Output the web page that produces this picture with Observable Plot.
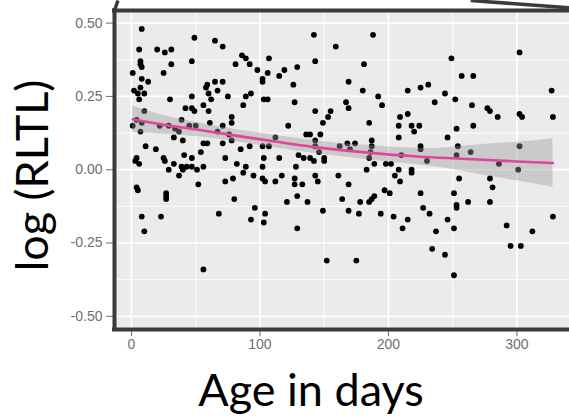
<!DOCTYPE html>
<html>
<head>
<meta charset="utf-8">
<script src="https://cdn.jsdelivr.net/npm/d3@7"></script>
<script src="https://cdn.jsdelivr.net/npm/@observablehq/plot@0.6"></script>
<style>
  html, body { margin: 0; padding: 0; background: #ffffff; }
  #chart { width: 569px; height: 416px; overflow: hidden; }
</style>
</head>
<body>
<div id="chart"></div>
<script>
// Age (days) and log relative telomere length for each sampled individual
const ageDays = [
  8, 49, 65, 71, 6, 20, 26, 31, 7, 47, 31, 86, 81, 89, 92, 7, 8, 1, 25, 8,
  13, 65, 71, 59, 98, 102, 102, 2, 7, 10, 5, 6, 58, 60, 67, 47, 30, 62, 75, 93,
  89, 87, 56, 42, 47, 49, 60, 78, 103, 10, 4, 8, 1, 7, 39, 61, 78, 22, 29, 34,
  37, 45, 50, 71, 33, 40, 67, 76, 78, 11, 19, 41, 47, 56, 59, 71, 85, 92, 102, 54,
  25, 26, 4, 6, 3, 33, 39, 43, 47, 56, 73, 82, 89, 103, 102, 29, 40, 51,
  37, 52, 4, 5, 27, 27, 27, 8, 23, 10, 56, 73, 79, 87, 95, 102, 104, 80, 68, 96,
  93, 104, 103,
  142, 188, 159, 107, 143, 181, 106, 115, 119, 129, 126, 169, 180, 192, 195, 215, 106, 127, 143, 155,
  153, 149, 167, 169, 185, 209, 215, 208, 218, 220, 122, 136, 139, 147, 143, 112, 107, 187, 208, 168,
  174, 162, 170, 143, 146, 150, 187, 186, 210, 130, 134, 139, 142, 150, 115, 128, 185, 189, 198, 202,
  208, 218, 183,
  117, 112, 127, 127, 133, 143, 145, 161, 169, 205, 209, 218, 121, 129, 137, 149, 164, 169, 177, 178,
  185, 187, 189, 197, 201, 194, 204, 215, 211, 129, 152, 175,
  249, 302, 257, 266, 225, 231, 244, 236, 252, 265, 277, 279, 285, 302, 304, 327, 328, 224, 253, 266,
  246, 225, 225, 230, 254, 253, 264, 302, 286, 301,
  225, 255, 279, 281, 251, 253, 253, 262, 279, 227, 232, 237, 246, 251, 234, 244, 251, 292, 312, 295,
  303, 328
];
const logRLTL = [
  0.48, 0.45, 0.44, 0.42, 0.41, 0.41, 0.40, 0.41, 0.37, 0.37, 0.36, 0.39, 0.36, 0.38, 0.36, 0.36, 0.35, 0.33, 0.33, 0.31,
  0.30, 0.30, 0.30, 0.29, 0.34, 0.31, 0.30, 0.27, 0.28, 0.26, 0.26, 0.24, 0.28, 0.26, 0.27, 0.25, 0.24, 0.24, 0.25, 0.26,
  0.25, 0.22, 0.22, 0.21, 0.21, 0.20, 0.20, 0.18, 0.24, 0.20, 0.17, 0.16, 0.15, 0.13, 0.17, 0.16, 0.16, 0.15, 0.15, 0.14,
  0.13, 0.15, 0.15, 0.15, 0.11, 0.10, 0.13, 0.12, 0.10, 0.08, 0.07, 0.05, 0.04, 0.09, 0.09, 0.09, 0.07, 0.08, 0.08, 0.06,
  0.04, 0.03, 0.04, 0.02, 0.03, 0.02, 0.01, 0.01, 0.01, 0.01, 0.04, 0.02, 0.01, 0.04, 0.01, 0.00, 0.00, 0.00,
  -0.02, -0.05, -0.06, -0.07, -0.08, -0.09, -0.10, -0.16, -0.16, -0.21, -0.34, -0.04, -0.03, -0.01, -0.02, -0.03, -0.04, -0.10, -0.15, -0.13,
  -0.17, -0.15, -0.18,
  0.46, 0.46, 0.42, 0.38, 0.37, 0.36, 0.33, 0.32, 0.34, 0.35, 0.29, 0.30, 0.27, 0.25, 0.22, 0.27, 0.24, 0.23, 0.20, 0.20,
  0.18, 0.16, 0.23, 0.21, 0.16, 0.18, 0.19, 0.15, 0.15, 0.13, 0.15, 0.12, 0.12, 0.12, 0.10, 0.11, 0.08, 0.10, 0.11, 0.09,
  0.09, 0.08, 0.07, 0.08, 0.06, 0.04, 0.08, 0.06, 0.05, 0.05, 0.04, 0.04, 0.03, 0.03, 0.04, 0.01, 0.04, 0.02, 0.02, 0.02,
  0.00, 0.00, 0.00,
  -0.02, -0.04, -0.03, -0.05, -0.05, -0.02, -0.04, -0.02, -0.05, -0.02, -0.04, -0.01, -0.11, -0.09, -0.11, -0.14, -0.10, -0.14, -0.15, -0.11,
  -0.11, -0.10, -0.09, -0.07, -0.08, -0.15, -0.16, -0.17, -0.20, -0.20, -0.31, -0.31,
  0.38, 0.40, 0.32, 0.32, 0.28, 0.29, 0.26, 0.23, 0.24, 0.22, 0.21, 0.20, 0.18, 0.19, 0.18, 0.27, 0.18, 0.15, 0.14, 0.15,
  0.11, 0.08, 0.07, 0.03, 0.08, 0.05, 0.06, 0.08, 0.02, 0.00,
  -0.08, -0.03, -0.03, -0.06, -0.08, -0.12, -0.13, -0.11, -0.11, -0.13, -0.15, -0.21, -0.17, -0.20, -0.27, -0.29, -0.36, -0.19, -0.21, -0.26,
  -0.26, -0.16
];

// Smoothed trend with its confidence band
const fitAge  = [1, 25, 52, 80, 106, 143, 180, 222, 250, 273, 300, 328];
const fitMean = [0.172, 0.153, 0.136, 0.117, 0.100, 0.077, 0.060, 0.045, 0.039, 0.034, 0.028, 0.023];
const fitLow  = [0.127, 0.121, 0.112, 0.096, 0.079, 0.055, 0.036, 0.017, 0.001, -0.018, -0.038, -0.060];
const fitHigh = [0.217, 0.185, 0.160, 0.138, 0.121, 0.099, 0.084, 0.073, 0.077, 0.086, 0.094, 0.106];

// Axis ticks
const xTicks = [0, 100, 200, 300];
const xMinor = [50, 150, 250];
const yTicks = [-0.50, -0.25, 0.00, 0.25, 0.50];
const yMinor = [-0.375, -0.125, 0.125, 0.375];

const xDomain = [-13.2, 340.9];
const yDomain = [-0.545, 0.543];

// Edges of the magnification outline that reach beyond the panel
const outlineStart = [{a: 264, r: 0.577}, {a: -10.5, r: 0.577}];
const outlineEnd   = [{a: 365, r: 0.545}, {a: -13.2, r: 0.543}];

const points = ageDays.map((a, i) => ({age: a, value: logRLTL[i]}));
const fit = fitAge.map((a, i) => ({age: a, mean: fitMean[i], low: fitLow[i], high: fitHigh[i]}));
const outline = outlineStart.map((s, i) => ({x1: s.a, y1: s.r, x2: outlineEnd[i].a, y2: outlineEnd[i].r}));

const border = "#3b3b3b";
const tickColor = "#6e6e6e";

const chart = Plot.plot({
  width: 569,
  height: 416,
  marginLeft: 114,
  marginRight: 0,
  marginTop: 10,
  marginBottom: 87,
  x: {domain: xDomain},
  y: {domain: yDomain},
  style: {fontFamily: "Liberation Sans, Arial, sans-serif", background: "#ffffff", overflow: "visible"},
  marks: [
    Plot.frame({fill: "#ebebeb", stroke: null}),
    Plot.gridY(yMinor, {stroke: "#ffffff", strokeOpacity: 1, strokeWidth: 0.9}),
    Plot.gridX(xMinor, {stroke: "#ffffff", strokeOpacity: 1, strokeWidth: 0.9}),
    Plot.gridY(yTicks, {stroke: "#ffffff", strokeOpacity: 1, strokeWidth: 1.7}),
    Plot.gridX(xTicks, {stroke: "#ffffff", strokeOpacity: 1, strokeWidth: 1.7}),
    Plot.dot(points, {x: "age", y: "value", r: 2.9, fill: "#000000", stroke: null}),
    Plot.areaY(fit, {x: "age", y1: "low", y2: "high", fill: "#999999", fillOpacity: 0.4, curve: "natural"}),
    Plot.line(fit, {x: "age", y: "mean", stroke: "#e0449c", strokeWidth: 2.6, curve: "natural"}),
    Plot.axisY(yTicks, {anchor: "left", tickSize: 8, tickPadding: 4, fontSize: 14, color: tickColor,
      tickFormat: d => d.toFixed(2), label: null}),
    Plot.axisX(xTicks, {anchor: "bottom", tickSize: 7, tickPadding: 3, fontSize: 14, color: tickColor,
      tickFormat: d => String(d), label: null}),
    Plot.ruleX([xDomain[0]], {stroke: border, strokeWidth: 4, strokeLinecap: "square"}),
    Plot.ruleY(yDomain, {stroke: border, strokeWidth: 4, strokeLinecap: "square"}),
    Plot.link(outline, {x1: "x1", y1: "y1", x2: "x2", y2: "y2", stroke: border, strokeWidth: 3.5}),
    Plot.text(["log (RLTL)"], {frameAnchor: "left", rotate: -90, dx: -67, dy: 5.5, lineAnchor: "bottom",
      textAnchor: "middle", fontSize: 45, fontFamily: "Lato, sans-serif", fill: "#000000"}),
    Plot.text(["Age in days"], {frameAnchor: "bottom", dx: -31, dy: 76, lineAnchor: "bottom",
      textAnchor: "middle", fontSize: 45, fontFamily: "Lato, sans-serif", fill: "#000000"})
  ]
});

document.getElementById("chart").appendChild(chart);
</script>
</body>
</html>
